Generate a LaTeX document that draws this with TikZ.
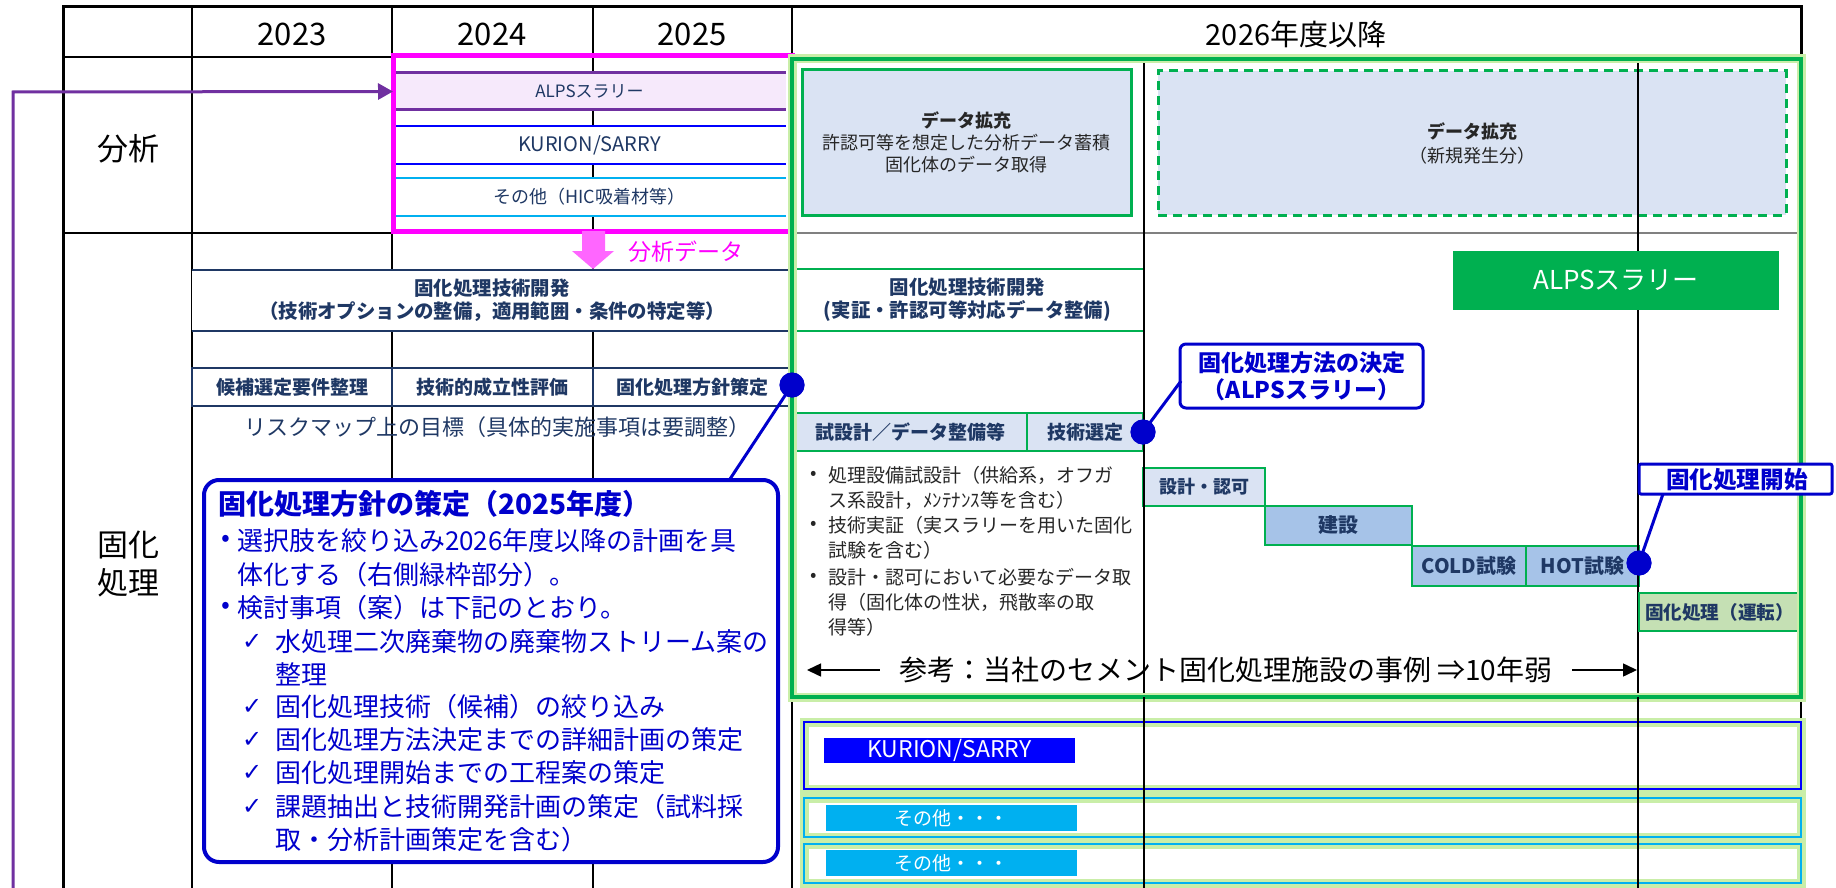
\documentclass[tikz,border=0pt]{standalone}
\usepackage{fontspec}
\setmainfont{Noto Sans CJK JP}
\newfontfamily\dejavu{DejaVu Sans}
\usetikzlibrary{arrows.meta}
\definecolor{navy}{HTML}{1F3864}
\definecolor{cblue}{HTML}{0000CC}
\definecolor{pblue}{HTML}{0000FF}
\definecolor{cyanb}{HTML}{00B0F0}
\definecolor{grn}{HTML}{00B050}
\definecolor{glow}{HTML}{C9EEA8}
\definecolor{lblue}{HTML}{DAE3F3}
\definecolor{mblue}{HTML}{A6C3E8}
\definecolor{lgreen}{HTML}{C5E0B4}
\definecolor{purp}{HTML}{7030A0}
\definecolor{lav}{HTML}{F6E9FB}
\definecolor{mag}{HTML}{FF00FF}
\definecolor{pinkar}{HTML}{FF66FF}
\definecolor{txtgray}{HTML}{262626}
\newcommand\fsz[2]{\fontsize{#1}{#2}\selectfont}
\newcommand\bx[7]{\node[#2, minimum width={(#5-#3)*0.5pt}, minimum height={(#6-#4)*0.5pt}] (#1) at ({(#3+#5)/2},{(#4+#6)/2}) {#7};}
\tikzset{
  base/.style={inner sep=0pt, outer sep=0pt},
  hdr/.style={base, font=\fsz{15.5}{18}},
  lbl/.style={base, font=\fsz{15.5}{19}, align=center},
  navycell/.style={base, draw=navy, line width=1pt, fill=white, text=navy, font=\bfseries\fsz{9.5}{11}},
  gcell/.style={base, draw=grn, line width=1pt, fill=lblue, text=navy, font=\bfseries\fsz{9.5}{11}},
  mcell/.style={base, draw=grn, line width=1pt, fill=mblue, text=navy, font=\bfseries\fsz{10}{12}},
  cbt/.style={base, anchor=west, text=cblue, font=\fsz{13}{15}},
  rbt/.style={base, anchor=west, text=txtgray, font=\fsz{9.5}{12}},
  dot/.style={circle, fill=cblue, minimum size=12.5pt, inner sep=0pt},
  conn/.style={cblue, line width=1.5pt},
}
\begin{document}
\begin{tikzpicture}[x=0.5pt,y=-0.5pt]
\useasboundingbox (0,0) rectangle (1836,888);
\fill[white] (0,0) rectangle (1836,888);

% ---------- table grid ----------
\draw[line width=0.75pt] (392,7) -- (392,888) (593,7) -- (593,888);
\draw[line width=1pt] (192,7) -- (192,888);
\draw[line width=1pt] (63,57) -- (1801,57);
\draw[line width=1pt] (63,233) -- (792,233);
\draw[line width=0.9pt] (792,7) -- (792,59) (792,697) -- (792,888) (1801,697) -- (1801,888);
\draw[line width=1.5pt] (63,888) -- (63,7) -- (1801,7) -- (1801,57);

\node[hdr] (h1) at (292,34) {2023};
\node[hdr] (h2) at (492,34) {2024};
\node[hdr] (h3) at (692,34) {2025};
\node[hdr, font=\fsz{14.5}{17}] (h4) at (1296,34) {2026年度以降};
\node[lbl] (l1) at (128,149) {分析};
\node[lbl] (l2) at (128,564) {固化\\処理};

% ---------- analysis row (left) ----------
\bx{alps}{base, fill=lav, text=navy, font=\fsz{8.5}{10}}{393}{73}{786}{110}{ALPSスラリー}
\draw[purp, line width=1.5pt] (alps.north west) -- (alps.north east) (alps.south west) -- (alps.south east);
\bx{kur}{base, fill=white, text=navy, font=\fsz{10}{12}}{393}{126}{786}{164}{KURION/SARRY}
\draw[pblue, line width=1pt] (kur.north west) -- (kur.north east) (kur.south west) -- (kur.south east);
\bx{oth}{base, fill=white, text=navy, font=\fsz{9}{11}}{393}{178}{786}{216}{その他（HIC吸着材等）}
\draw[cyanb, line width=0.75pt] (oth.north west) -- (oth.north east) (oth.south west) -- (oth.south east);
\bx{magbox}{base, draw=mag, line width=2.5pt}{393}{56}{792}{231}{}

% purple connector
\coordinate (pstart) at (13,888);
\coordinate (pcorner) at (13,92);
\draw[purp, line width=1.5pt, -{Triangle[length=7.5pt,width=8pt]}] (pstart) -- (pcorner) -- (alps.west);

% pink arrow + label
\fill[pinkar] (582,231) -- (605,231) -- (605,251) -- (614,251) -- (593,269) -- (572,251) -- (582,251) -- cycle;
\node[base, text=mag, font=\fsz{11.5}{13}] (adata) at (686,252) {分析データ};

% ---------- solidification row (left) ----------
\bx{dev1}{base, fill=white, text=navy, align=center, font=\bfseries\fsz{9.7}{11.5}}{192}{270}{792}{331}{固化処理技術開発\\（技術オプションの整備，適用範囲・条件の特定等）}
\draw[navy, line width=1pt] (dev1.north west) -- (dev1.north east) (dev1.south west) -- (dev1.south east);
\bx{s1}{navycell}{192}{368}{392}{406}{候補選定要件整理}
\bx{s2}{navycell}{392}{368}{593}{406}{技術的成立性評価}
\bx{s3}{navycell}{593}{368}{792}{406}{固化処理方針策定}
\node[base, text=navy, font=\fsz{11}{13}] (risk) at (497,427) {リスクマップ上の目標（具体的実施事項は要調整）};

% callout 1
\bx{co1}{base, draw=cblue, line width=2pt, fill=white, rounded corners=7.5pt}{204}{480}{778}{862}{}
\node[cbt, font=\bfseries\fsz{14}{16}] (t0) at (218,504) {固化処理方針の策定（2025年度）};
\node[cbt] (b1) at (221,541) {•};
\node[cbt] (t1) at (237,541) {選択肢を絞り込み2026年度以降の計画を具};
\node[cbt] (t2) at (237,575) {体化する（右側緑枠部分）。};
\node[cbt] (b2) at (221,608) {•};
\node[cbt] (t3) at (237,608) {検討事項（案）は下記のとおり。};
\node[cbt, font=\dejavu\fsz{12}{14}] (k1) at (242,642) {✓};
\node[cbt] (t4) at (275,642) {水処理二次廃棄物の廃棄物ストリーム案の};
\node[cbt] (t5) at (275,674) {整理};
\node[cbt, font=\dejavu\fsz{12}{14}] (k2) at (242,707) {✓};
\node[cbt] (t6) at (275,707) {固化処理技術（候補）の絞り込み};
\node[cbt, font=\dejavu\fsz{12}{14}] (k3) at (242,740) {✓};
\node[cbt] (t7) at (275,740) {固化処理方法決定までの詳細計画の策定};
\node[cbt, font=\dejavu\fsz{12}{14}] (k4) at (242,773) {✓};
\node[cbt] (t8) at (275,773) {固化処理開始までの工程案の策定};
\node[cbt, font=\dejavu\fsz{12}{14}] (k5) at (242,807) {✓};
\node[cbt] (t9) at (275,807) {課題抽出と技術開発計画の策定（試料採};
\node[cbt] (t10) at (275,840) {取・分析計画策定を含む）};

% ---------- 2026+ region ----------
\bx{dx1}{base, fill=lblue, draw=grn, line width=1.5pt, align=center, text=txtgray, font=\fsz{9}{11}}{802}{70}{1131}{215}{\textbf{データ拡充}\\許認可等を想定した分析データ蓄積\\固化体のデータ取得}
\bx{dx2}{base, fill=lblue, draw=grn, line width=1.5pt, dash pattern=on 4.5pt off 3pt, align=center, text=txtgray, font=\fsz{9}{12}}{1158}{71}{1786}{215}{\textbf{データ拡充}\\（新規発生分）}
\draw[gray, line width=0.75pt] (792,233) -- (1801,233);

\bx{dev2}{base, fill=white, text=navy, align=center, font=\bfseries\fsz{9.7}{11.5}}{792}{269}{1143}{331}{固化処理技術開発\\(実証・許認可等対応データ整備)}
\draw[grn, line width=1pt] (dev2.north west) -- (dev2.north east) (dev2.south west) -- (dev2.south east);

\bx{g1}{gcell}{793}{413}{1027}{451}{試設計／データ整備等}
\bx{g2}{gcell}{1027}{413}{1143}{451}{技術選定}

\node[rbt] (rb1) at (810,475) {•};
\node[rbt] (r1) at (828,475) {処理設備試設計（供給系，オフガ};
\node[rbt] (r2) at (828,500) {ス系設計，ﾒﾝﾃﾅﾝｽ等を含む）};
\node[rbt] (rb2) at (810,525) {•};
\node[rbt] (r3) at (828,525) {技術実証（実スラリーを用いた固化};
\node[rbt] (r4) at (828,550) {試験を含む）};
\node[rbt] (rb3) at (810,577) {•};
\node[rbt] (r5) at (828,577) {設計・認可において必要なデータ取};
\node[rbt] (r6) at (828,602) {得（固化体の性状，飛散率の取};
\node[rbt] (r7) at (828,627) {得等）};

\bx{p1}{gcell, fill=lblue, font=\bfseries\fsz{9}{11}}{1143}{468}{1265}{506}{設計・認可}
\bx{p2}{mcell}{1265}{506}{1412}{545}{建設}
\bx{p3}{mcell}{1412}{546}{1526}{586}{COLD試験}
\bx{p4}{mcell}{1526}{546}{1639}{586}{HOT試験}

\node[base, font=\fsz{14}{16}] (ref) at (1226,670) {参考：当社のセメント固化処理施設の事例 ⇒10年弱};
\coordinate (al) at (807,670);
\coordinate (ar) at (1637,670);
\draw[line width=0.75pt, -{Triangle[length=7pt,width=6.5pt]}] ([xshift=-10pt]ref.west) -- (al);
\draw[line width=0.75pt, -{Triangle[length=7pt,width=6.5pt]}] ([xshift=10pt]ref.east) -- (ar);

% year dividers inside 2026+
\draw[line width=1pt] (1144,62) -- (1144,888) (1638,62) -- (1638,888);

\bx{alpsg}{base, fill=grn, text=white, font=\fsz{13}{15}}{1453}{251}{1779}{310}{ALPSスラリー}
\bx{co2}{base, draw=cblue, line width=1.5pt, fill=white, rounded corners=3pt, align=center, text=cblue, font=\bfseries\fsz{11.5}{13.5}}{1180}{344}{1423}{408}{固化処理方法の決定\\（ALPSスラリー）}
\bx{op}{base, draw=grn, line width=1pt, fill=lgreen, text=navy, font=\bfseries\fsz{9.3}{11}}{1639}{593}{1800}{631}{固化処理（運転）}

% green frame with glow
\draw[glow, line width=4.5pt] (792,59) rectangle (1801,697);
\draw[grn, line width=2pt] (792,59) rectangle (1801,697);

% milestone callout drawn over the frame
\bx{co3}{base, draw=cblue, line width=1.5pt, fill=white, rounded corners=1pt}{1639}{464}{1832}{494}{}
\node[base, anchor=west, text=cblue, font=\bfseries\fsz{11.8}{14}] (co3t) at (1666,480) {固化処理開始};

% ---------- lower rows ----------
\foreach \ya/\yb in {722/789, 798/837, 844/883}{
  \draw[glow, line width=4.5pt] (804,\ya) rectangle (1801,\yb);
}
\draw[pblue, line width=1.3pt] (804,722) rectangle (1801,789);
\draw[cyanb, line width=1.3pt] (804,798) rectangle (1801,837);
\draw[cyanb, line width=1.3pt] (804,844) rectangle (1801,883);
\draw[line width=1pt] (1144,697) -- (1144,888) (1638,697) -- (1638,888);
\bx{kl}{base, fill=pblue, text=white, font=\fsz{11.5}{13}}{824}{738}{1075}{763}{KURION/SARRY}
\bx{o1}{base, fill=cyanb, text=white, font=\fsz{9.5}{11}}{826}{805}{1077}{831}{その他・・・}
\bx{o2}{base, fill=cyanb, text=white, font=\fsz{9.5}{11}}{826}{850}{1077}{876}{その他・・・}

% ---------- milestone dots and leaders ----------
\node[dot] (d1) at (792,385) {};
\node[dot] (d2) at (1143,432) {};
\node[dot] (d3) at (1639,563) {};
\coordinate (c1) at (730,479);
\coordinate (c2) at (1181,381);
\coordinate (c3) at (1663,494);
\draw[conn] (d1.center) -- (c1);
\draw[conn] (d2.center) -- (c2);
\draw[conn] (d3.center) -- (c3);
\node[dot] at (d1) {};
\node[dot] at (d2) {};
\node[dot] at (d3) {};
\end{tikzpicture}
\end{document}
